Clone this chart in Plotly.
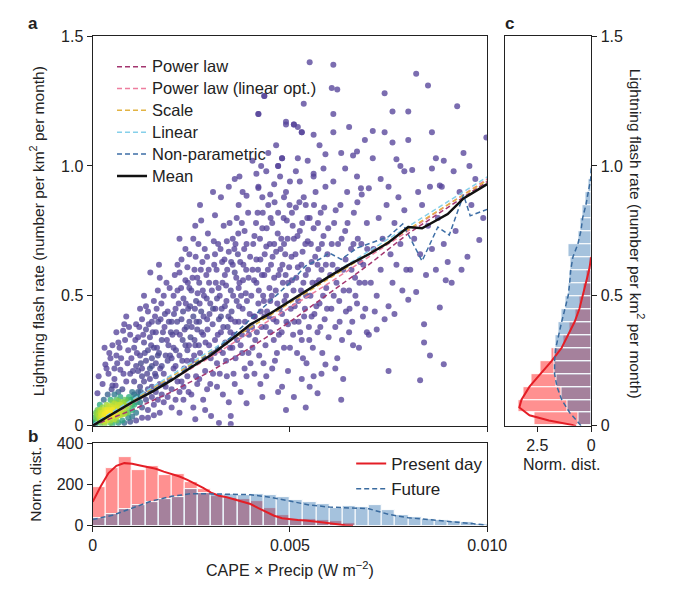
import numpy as np
import plotly.graph_objects as go

W, H = 674, 591

# ---------------- Panel a: scatter cloud (x in 1e-3 W m^-2, y flash rate) ----------------
core_pts = [
    (0.05,0.005),(0.1,0.01),(0.15,0.02),(0.2,0.01),(0.2,0.03),(0.25,0.02),(0.3,0.03),(0.3,0.015),
    (0.35,0.04),(0.35,0.02),(0.4,0.03),(0.4,0.05),(0.45,0.02),(0.45,0.04),(0.5,0.035),(0.5,0.06),
    (0.55,0.045),(0.55,0.025),(0.6,0.05),(0.6,0.07),(0.65,0.04),(0.65,0.06),(0.7,0.055),(0.7,0.08),
    (0.75,0.045),(0.75,0.07),(0.8,0.06),(0.8,0.09),(0.85,0.075),(0.85,0.05),(0.9,0.07),(0.9,0.1),
    (0.95,0.085),(1.0,0.06),(1.0,0.1),(0.1,0.03),(0.15,0.04),(0.25,0.05),(0.3,0.06),(0.4,0.075),
    (0.5,0.09),(0.6,0.1),(0.7,0.11),(0.2,0.06),(0.35,0.08),(0.45,0.1),(0.55,0.12),(0.65,0.13),
    (0.12,0.06),(0.05,0.03),(0.08,0.05),(0.18,0.08),(0.28,0.1),(0.38,0.12),(0.48,0.14),(0.58,0.155),
    (0.3,0.005),(0.45,0.01),(0.6,0.02),(0.75,0.02),(0.9,0.03),(1.0,0.035),(0.5,0.005),(0.65,0.01),
    (0.8,0.01),(0.95,0.015),
    (0.02,0.01),(0.07,0.015),(0.12,0.02),(0.17,0.03),(0.22,0.04),(0.27,0.035),(0.32,0.045),(0.37,0.05),
    (0.42,0.06),(0.47,0.055),(0.52,0.07),(0.57,0.065),(0.62,0.08),(0.67,0.075),(0.72,0.09),(0.77,0.085),
    (0.82,0.1),(0.87,0.09),(0.92,0.11),(0.97,0.1),(0.1,0.045),(0.2,0.05),(0.3,0.045),(0.4,0.04),
    (0.5,0.045),(0.6,0.035),(0.7,0.04),(0.8,0.045),(0.9,0.05),(1.0,0.08),(1.05,0.12),(1.12,0.09),
    (1.18,0.11),(1.22,0.13),(0.25,0.07),(0.15,0.055),(0.35,0.06),(0.45,0.075),(0.55,0.085),(0.65,0.095),
    (1.05,0.08),(1.1,0.11),(1.1,0.05),(1.15,0.13),(1.2,0.09),(1.2,0.15),(1.25,0.07),(1.3,0.12),
    (1.3,0.17),(1.35,0.1),(1.4,0.14),(1.4,0.06),(1.45,0.18),(1.5,0.11),(1.5,0.15),(1.55,0.08),
    (1.6,0.13),(1.6,0.19),(1.65,0.1),(1.7,0.16),(1.7,0.05),(1.75,0.12),(1.8,0.2),(1.8,0.09),
    (1.85,0.15),(1.9,0.11),(1.95,0.18),(2.0,0.07),(2.0,0.14),(2.05,0.22),(2.1,0.1),(2.15,0.17),
    (2.2,0.05),(2.2,0.13),(1.1,0.02),(1.25,0.03),(1.4,0.03),(1.55,0.04),(1.0,0.13),(1.05,0.17),
    (0.95,0.2),(1.15,0.21),(0.85,0.17),(0.75,0.14),(1.25,0.22),(1.35,0.25),(1.5,0.23),(1.65,0.27),
]

cloud_pts = [
    # x 0-1
    (0.12,0.125),(0.15,0.19),(0.32,0.235),(0.5,0.31),(0.5,0.155),(0.7,0.215),(0.77,0.365),(0.85,0.42),
    (0.8,0.39),(0.6,0.27),(0.4,0.2),(0.25,0.16),(0.65,0.32),(0.9,0.29),(0.95,0.35),(0.45,0.26),
    (0.3,0.3),(0.72,0.26),(0.55,0.22),(0.88,0.24),
    # x 1-2
    (1.1,0.39),(1.25,0.41),(1.4,0.44),(1.3,0.5),(1.46,0.59),(1.7,0.57),(1.05,0.3),(1.15,0.34),
    (1.2,0.27),(1.3,0.32),(1.35,0.37),(1.4,0.29),(1.45,0.34),(1.5,0.4),(1.55,0.3),(1.6,0.36),
    (1.62,0.45),(1.68,0.28),(1.72,0.41),(1.75,0.33),(1.8,0.5),(1.82,0.38),(1.85,0.27),(1.9,0.44),
    (1.92,0.31),(1.95,0.53),(1.98,0.36),(1.1,0.23),(1.25,0.19),(1.45,0.22),(1.6,0.24),(1.75,0.23),
    (1.9,0.25),(1.55,0.48),(1.35,0.46),(1.65,0.52),(2.0,0.4),(1.2,0.45),(1.5,0.26),
    # x 2-3
    (2.2,0.59),(2.4,0.61),(2.6,0.77),(2.05,0.3),(2.1,0.45),(2.12,0.36),(2.15,0.52),(2.2,0.27),
    (2.25,0.41),(2.28,0.33),(2.3,0.49),(2.32,0.22),(2.35,0.56),(2.38,0.38),(2.4,0.29),(2.42,0.45),
    (2.45,0.66),(2.48,0.34),(2.5,0.52),(2.52,0.25),(2.55,0.42),(2.58,0.6),(2.6,0.31),(2.62,0.48),
    (2.65,0.37),(2.68,0.7),(2.7,0.55),(2.72,0.28),(2.75,0.44),(2.78,0.63),(2.8,0.35),(2.82,0.5),
    (2.85,0.21),(2.88,0.58),(2.9,0.41),(2.92,0.74),(2.95,0.31),(2.98,0.47),(2.3,0.15),(2.5,0.12),
    (2.6,0.025),(2.7,0.18),(2.8,0.1),(2.9,0.14),(3.0,0.037),(2.4,0.19),(2.65,0.16),(2.55,0.07),
    (2.85,0.06),(2.1,0.23),(2.25,0.17),(2.2,0.72),(2.35,0.68),(2.55,0.72),(2.75,0.79),(2.15,0.62),
    (2.45,0.53),(2.65,0.57),(2.9,0.65),(2.05,0.5),(2.95,0.55),(2.7,0.4),(2.45,0.4),(2.35,0.31),
    (2.58,0.33),
    # x 3-4
    (3.1,0.81),(3.7,0.85),(3.9,0.885),(3.2,0.01),(3.5,0.037),(3.5,0.006),(3.9,0.086),(3.05,0.45),
    (3.08,0.62),(3.1,0.33),(3.12,0.55),(3.15,0.24),(3.18,0.7),(3.2,0.41),(3.22,0.5),(3.25,0.36),
    (3.28,0.63),(3.3,0.28),(3.32,0.77),(3.35,0.46),(3.38,0.54),(3.4,0.19),(3.42,0.38),(3.45,0.67),
    (3.48,0.3),(3.5,0.52),(3.52,0.44),(3.55,0.72),(3.58,0.35),(3.6,0.59),(3.62,0.26),(3.65,0.48),
    (3.68,0.66),(3.7,0.4),(3.72,0.55),(3.75,0.31),(3.78,0.78),(3.8,0.45),(3.82,0.62),(3.85,0.22),
    (3.88,0.51),(3.9,0.7),(3.92,0.37),(3.95,0.57),(3.98,0.43),(3.15,0.15),(3.3,0.12),(3.45,0.09),
    (3.6,0.16),(3.75,0.13),(3.9,0.19),(3.05,0.2),(3.25,0.88),(3.45,0.92),(3.6,0.95),(3.8,0.9),
    (3.35,0.58),(3.65,0.8),(3.55,0.62),(3.15,0.49),(3.4,0.71),(3.85,0.75),(3.7,0.53),(3.25,0.42),
    (3.5,0.41),(3.95,0.28),(3.1,0.66),(3.38,0.25),(3.62,0.7),(3.78,0.35),
    # x 4-5
    (4.2,0.915),(4.35,1.27),(4.2,1.2),(4.9,1.17),(4.8,1.03),(4.7,1.0),(4.5,0.89),(4.9,0.9),
    (5.0,0.94),(4.4,0.19),(4.3,0.11),(4.8,0.15),(4.9,0.06),(4.05,0.6),(4.08,0.42),(4.1,0.73),
    (4.12,0.33),(4.15,0.55),(4.18,0.82),(4.2,0.47),(4.22,0.27),(4.25,0.64),(4.28,0.38),(4.3,0.76),
    (4.32,0.5),(4.35,0.58),(4.38,0.31),(4.4,0.69),(4.42,0.44),(4.45,0.85),(4.48,0.53),(4.5,0.36),
    (4.52,0.62),(4.55,0.78),(4.58,0.41),(4.6,0.57),(4.62,0.25),(4.65,0.67),(4.68,0.47),(4.7,0.82),
    (4.72,0.35),(4.75,0.6),(4.78,0.72),(4.8,0.43),(4.82,0.55),(4.85,0.3),(4.88,0.66),(4.9,0.5),
    (4.92,0.79),(4.95,0.39),(4.98,0.61),(4.1,0.2),(4.25,0.16),(4.55,0.22),(4.7,0.13),(4.95,0.21),
    (4.15,0.97),(4.4,0.98),(4.6,0.93),(4.75,0.96),(4.3,0.88),(4.85,0.88),(4.65,1.08),(4.45,1.05),
    (4.05,1.02),(4.6,0.7),(4.35,0.42),(4.15,0.64),(4.5,0.48),(4.85,0.7),(4.05,0.3),(4.9,1.16),
    # x 5-6
    (5.5,1.4),(5.1,1.16),(5.3,1.13),(5.2,1.15),(5.2,1.03),(5.9,1.045),(5.6,0.97),(5.1,0.11),
    (5.4,0.07),(5.7,0.125),(5.6,0.19),(5.9,0.235),(5.05,0.56),(5.08,0.35),(5.1,0.72),(5.12,0.46),
    (5.15,0.84),(5.18,0.28),(5.2,0.61),(5.22,0.4),(5.25,0.75),(5.28,0.52),(5.3,0.33),(5.32,0.67),
    (5.35,0.88),(5.38,0.45),(5.4,0.58),(5.42,0.24),(5.45,0.71),(5.48,0.38),(5.5,0.8),(5.52,0.5),
    (5.55,0.63),(5.58,0.3),(5.6,0.76),(5.62,0.43),(5.65,0.9),(5.68,0.55),(5.7,0.36),(5.72,0.68),
    (5.75,0.47),(5.78,0.82),(5.8,0.6),(5.82,0.28),(5.85,0.73),(5.88,0.41),(5.9,0.92),(5.92,0.53),
    (5.95,0.66),(5.98,0.34),(5.3,0.18),(5.5,0.15),(5.8,0.2),(5.15,0.98),(5.45,1.02),(5.75,1.08),
    (5.25,0.94),(5.6,1.12),(5.35,1.24),(5.85,0.99),(5.05,0.82),(5.4,0.85),(5.7,0.62),(5.55,0.42),
    # x 6-7
    (6.1,1.39),(6.06,1.3),(6.1,1.2),(6.1,1.13),(6.2,1.295),(6.3,1.05),(6.7,1.056),(6.6,1.04),
    (6.1,0.94),(6.7,0.96),(6.3,0.10),(6.2,0.26),(6.5,0.36),(6.6,0.31),(6.05,0.45),(6.08,0.62),
    (6.12,0.78),(6.15,0.38),(6.18,0.55),(6.22,0.7),(6.25,0.48),(6.28,0.85),(6.32,0.33),(6.35,0.6),
    (6.4,0.75),(6.42,0.44),(6.45,0.9),(6.5,0.52),(6.55,0.68),(6.58,0.4),(6.62,0.82),(6.65,0.57),
    (6.7,0.47),(6.72,0.72),(6.78,0.63),(6.82,0.89),(6.85,0.42),(6.9,0.55),(6.95,0.78),(6.8,0.914),
    (6.4,0.99),(6.9,1.1),(6.5,1.15),(6.35,0.18),(6.15,0.22),(6.75,0.3),(6.95,0.36),
    # x 7-8
    (7.1,1.135),(7.4,1.28),(7.4,1.13),(7.6,1.21),(7.6,1.09),(7.1,1.03),(7.7,1.026),(7.8,1.0),
    (7.5,0.92),(7.0,0.914),(7.5,0.21),(7.5,0.46),(7.4,0.41),(7.2,0.37),(7.0,0.35),(7.05,0.55),
    (7.12,0.68),(7.2,0.5),(7.25,0.8),(7.3,0.6),(7.35,0.72),(7.45,0.85),(7.55,0.66),(7.6,0.55),
    (7.65,0.78),(7.7,0.62),(7.75,0.88),(7.8,0.7),(7.85,0.52),(7.9,0.83),(7.95,0.6),(7.15,0.44),
    (7.3,0.95),(7.9,0.98),(7.65,0.43),
    # x 8-9
    (8.2,1.355),(8.5,1.31),(8.0,1.21),(8.0,1.10),(8.6,1.13),(8.1,0.985),(8.6,0.99),(8.7,1.03),
    (8.9,1.02),(8.8,0.925),(8.85,0.92),(8.3,0.175),(8.55,0.27),(8.4,0.32),(8.8,0.455),(8.4,0.39),
    (8.2,0.515),(8.0,0.485),(8.05,0.6),(8.15,0.72),(8.3,0.66),(8.35,0.85),(8.45,0.58),(8.5,0.77),
    (8.6,0.68),(8.7,0.6),(8.75,0.8),(8.9,0.7),(8.95,0.56),(8.25,0.9),(8.55,0.92),(8.9,0.236),
    # x 9-10
    (9.24,1.23),(9.4,1.05),(9.98,1.11),(9.0,0.63),(9.5,0.65),(9.8,0.715),(9.2,0.75),(9.3,0.9),
    (9.6,0.85),(9.7,0.95),(9.1,0.55),(9.9,0.8),(9.35,0.6),(9.55,1.0),(9.15,0.98),
    # upper sparse x 4-6
    (4.35,1.27),(4.2,1.2),(5.3,1.13),(4.8,1.03),(4.7,1.0),(4.2,0.92),(5.6,0.96),(5.1,1.16),
]

cloud_pts_dense = [
    # x 0.5-1.5
    (0.55,0.18),(0.62,0.24),(0.68,0.3),(0.78,0.2),(0.82,0.33),(0.92,0.38),(0.98,0.26),(1.02,0.21),
    (1.08,0.33),(1.12,0.28),(1.18,0.38),(1.22,0.24),(1.28,0.35),(1.32,0.28),(1.38,0.2),(1.42,0.39),
    (1.48,0.31),(0.6,0.36),(0.42,0.28),(0.35,0.22),
    # x 1.5-2.5
    (1.52,0.36),(1.58,0.42),(1.63,0.3),(1.66,0.4),(1.71,0.22),(1.74,0.47),(1.78,0.36),(1.83,0.43),
    (1.87,0.55),(1.88,0.33),(1.93,0.4),(1.96,0.27),(2.02,0.35),(2.06,0.43),(2.08,0.58),(2.11,0.29),
    (2.14,0.4),(2.18,0.47),(2.21,0.35),(2.24,0.53),(2.27,0.25),(2.29,0.44),(2.33,0.37),(2.36,0.47),
    (2.39,0.25),(2.41,0.55),(2.44,0.31),(2.47,0.46),(1.58,0.2),(1.8,0.16),(2.0,0.26),(2.3,0.1),
    (2.43,0.13),(1.68,0.62),(2.25,0.64),
    # x 2.5-3.5
    (2.51,0.38),(2.53,0.57),(2.57,0.27),(2.59,0.45),(2.61,0.65),(2.63,0.4),(2.66,0.51),(2.69,0.31),
    (2.71,0.47),(2.74,0.6),(2.76,0.36),(2.79,0.52),(2.81,0.42),(2.84,0.68),(2.86,0.32),(2.89,0.49),
    (2.91,0.37),(2.94,0.6),(2.96,0.43),(2.99,0.26),(3.02,0.52),(3.04,0.39),(3.07,0.71),(3.09,0.28),
    (3.11,0.45),(3.14,0.6),(3.17,0.35),(3.19,0.53),(3.21,0.29),(3.24,0.68),(3.27,0.45),(3.29,0.55),
    (3.31,0.38),(3.34,0.64),(3.36,0.32),(3.39,0.48),(3.41,0.6),(3.44,0.42),(3.47,0.78),(3.49,0.36),
    (2.62,0.19),(2.98,0.16),(3.22,0.2),(2.72,0.85),(3.05,0.9),
    # x 3.5-4.5
    (3.51,0.63),(3.54,0.3),(3.56,0.5),(3.59,0.68),(3.61,0.4),(3.64,0.57),(3.66,0.33),(3.69,0.74),
    (3.71,0.46),(3.74,0.63),(3.76,0.5),(3.79,0.28),(3.81,0.56),(3.84,0.68),(3.86,0.4),(3.89,0.6),
    (3.91,0.48),(3.94,0.82),(3.96,0.35),(3.99,0.65),(4.02,0.5),(4.04,0.38),(4.07,0.7),(4.09,0.56),
    (4.11,0.42),(4.14,0.78),(4.16,0.36),(4.19,0.6),(4.21,0.52),(4.24,0.72),(4.26,0.44),(4.29,0.58),
    (4.31,0.82),(4.34,0.48),(4.36,0.66),(4.39,0.38),(4.41,0.76),(4.44,0.6),(4.46,0.42),(4.49,0.7),
    (3.57,0.2),(4.0,0.24),(4.33,0.24),(3.72,0.96),(4.27,1.0),
    # x 4.5-5.5
    (4.51,0.8),(4.54,0.5),(4.56,0.65),(4.59,0.33),(4.61,0.86),(4.64,0.52),(4.66,0.4),(4.69,0.74),
    (4.71,0.58),(4.74,0.45),(4.76,0.68),(4.79,0.36),(4.81,0.62),(4.84,0.8),(4.86,0.48),(4.89,0.58),
    (4.91,0.4),(4.94,0.72),(4.96,0.55),(4.99,0.85),(5.02,0.45),(5.04,0.65),(5.07,0.77),(5.09,0.52),
    (5.11,0.4),(5.14,0.66),(5.16,0.57),(5.19,0.73),(5.21,0.48),(5.24,0.86),(5.26,0.36),(5.29,0.62),
    (5.31,0.78),(5.34,0.55),(5.36,0.42),(5.39,0.7),(5.41,0.5),(5.44,0.8),(5.46,0.6),(5.49,0.33),
    (4.67,0.28),(5.0,0.3),(5.33,0.26),
    # x 5.5-7
    (5.53,0.7),(5.57,0.55),(5.61,0.85),(5.64,0.65),(5.67,0.46),(5.71,0.78),(5.74,0.56),(5.77,0.38),
    (5.81,0.7),(5.84,0.5),(5.87,0.84),(5.91,0.62),(5.94,0.45),(5.97,0.76),(6.02,0.58),(6.06,0.7),
    (6.11,0.5),(6.16,0.83),(6.21,0.6),(6.26,0.4),(6.31,0.72),(6.36,0.52),(6.41,0.64),(6.46,0.78),
    (6.51,0.45),(6.56,0.6),(6.61,0.7),(6.66,0.5),(6.71,0.86),(6.76,0.55),(6.81,0.7),(6.86,0.62),
    (6.91,0.45),(6.96,0.68),
]

# ---------------- Panel a: fitted curves ----------------
fit_x = [0, 1, 2, 3, 4, 5, 6, 7, 8, 9, 10]  # 1e-3 W m^-2
power_law_y = [0, 0.06, 0.13, 0.21, 0.30, 0.40, 0.51, 0.62, 0.74, 0.84, 0.94]
power_lin_y = [0, 0.085, 0.175, 0.265, 0.36, 0.455, 0.55, 0.65, 0.75, 0.85, 0.95]
scale_x = [0, 10]
scale_y = [0, 0.945]
linear_x = [0, 10]
linear_y = [0.005, 0.958]
nonpar_x = [0, 0.5, 1, 1.5, 2, 2.5, 3, 3.5, 4, 4.5, 5, 5.4, 5.8, 6.0, 6.3, 6.7, 7.0, 7.5,
            7.86, 8.35, 8.75, 9.04, 9.4, 9.57, 10]
nonpar_y = [0, 0.045, 0.09, 0.135, 0.18, 0.23, 0.28, 0.34, 0.41, 0.48, 0.55, 0.615, 0.645, 0.665,
            0.64, 0.684, 0.70, 0.728, 0.777, 0.634, 0.765, 0.734, 0.889, 0.808, 0.833]
mean_x = [0, 0.5, 1, 1.5, 2, 2.5, 3, 3.5, 4, 4.5, 5, 5.5, 6, 6.5, 7, 7.5, 8.0, 8.35, 8.7, 9.0,
          9.4, 10]
mean_y = [0, 0.045, 0.09, 0.13, 0.175, 0.225, 0.272, 0.33, 0.39, 0.432, 0.48, 0.525, 0.575, 0.62,
          0.66, 0.705, 0.765, 0.76, 0.79, 0.815, 0.875, 0.93]

# ---------------- Panel b: distributions of CAPE x Precip ----------------
b_present_bars = [187, 281, 331, 268, 289, 246, 249, 210, 179, 145, 135, 130, 120, 85, 50, 32,
                  30, 28, 20, 10, 0, 0, 0, 0, 0, 0, 0, 0, 0, 0]
b_future_bars = [38, 55, 80, 100, 115, 130, 140, 175, 160, 155, 152, 150, 152, 150, 140, 125,
                 115, 105, 85, 95, 90, 100, 75, 50, 40, 32, 28, 20, 15, 8]
b_present_kde_x = [0, 0.2, 0.4, 0.6, 0.8, 1.0, 1.2, 1.4, 1.6, 1.8, 2.0, 2.2, 2.4, 2.6, 2.8, 3.0,
                   3.2, 3.4, 3.6, 3.8, 4.0, 4.2, 4.4, 4.6, 4.8, 5.0, 5.2, 5.4, 5.6, 5.8, 6.0, 6.2,
                   6.4, 6.6]
b_present_kde_y = [116, 190, 255, 290, 303, 300, 292, 284, 276, 262, 250, 238, 222, 204, 183, 160,
                   145, 138, 128, 118, 105, 85, 65, 48, 36, 30, 27, 25, 22, 17, 12, 6, 2, 0]
b_future_kde_x = [0, 0.5, 1.0, 1.5, 2.0, 2.5, 3.0, 3.5, 4.0, 4.5, 5.0, 5.5, 6.0, 6.5, 7.0, 7.5,
                  8.0, 8.5, 9.0, 9.5, 10.0]
b_future_kde_y = [30, 50, 85, 120, 142, 155, 154, 151, 150, 138, 118, 100, 90, 85, 82, 55, 38,
                  30, 20, 12, 3]

# ---------------- Panel c: distributions of flash rate ----------------
c_present_bars = [2.63, 3.38, 3.16, 2.78, 2.34, 1.82, 1.3, 1.0, 0.75, 0.55, 0.35, 0.22, 0.08,
                  0, 0, 0, 0, 0, 0, 0, 0, 0, 0, 0, 0, 0, 0, 0, 0, 0]
c_future_bars = [0.6, 1.1, 1.4, 1.6, 1.7, 1.72, 1.65, 1.5, 1.38, 1.2, 1.05, 1.0, 0.95, 1.05,
                 0.6, 0.5, 0.4, 0.25, 0.12, 0.03, 0, 0, 0, 0, 0, 0, 0, 0, 0, 0]
c_present_kde_y = [0, 0.02, 0.04, 0.07, 0.1, 0.15, 0.2, 0.25, 0.3, 0.35, 0.4, 0.45, 0.5, 0.55,
                   0.6, 0.65]
c_present_kde_x = [0.7, 1.96, 2.86, 3.33, 3.23, 2.86, 2.34, 1.82, 1.37, 1.07, 0.77, 0.55, 0.40,
                   0.25, 0.1, 0.0]
c_future_kde_y = [0, 0.05, 0.1, 0.15, 0.2, 0.25, 0.3, 0.35, 0.4, 0.45, 0.5, 0.55, 0.6, 0.65,
                  0.7, 0.75, 0.8, 0.85, 0.9, 0.95, 1.0]
c_future_kde_x = [0.48, 1.0, 1.37, 1.59, 1.70, 1.70, 1.64, 1.52, 1.37, 1.22, 1.07, 1.0, 0.95,
                  0.85, 0.62, 0.48, 0.40, 0.25, 0.15, 0.03, 0.0]

# ---------------- build ----------------
E3 = 1e-3
FONT = "Liberation Sans, Arial, sans-serif"
DASH = "5px,3px"

all_pts = core_pts + cloud_pts + cloud_pts_dense
sx = np.array([p[0] for p in all_pts])
sy = np.array([p[1] for p in all_pts])
# point density (neighbours in screen-like units), used for colouring as in a density scatter
ppx, ppy = sx * 40.9, sy * 268
d2 = (ppx[:, None] - ppx[None, :]) ** 2 + (ppy[:, None] - ppy[None, :]) ** 2
dens = np.log((d2 < 13 ** 2).sum(1).astype(float))
order = np.argsort(dens)

fig = go.Figure()

fig.add_trace(go.Scatter(
    x=sx[order] * E3, y=sy[order], mode="markers", showlegend=False, hoverinfo="skip",
    marker=dict(size=6, color=dens[order], cmin=np.log(9.0), cmax=dens.max(), opacity=0.78,
                colorscale=[[0, "#56449a"], [0.25, "#46498e"], [0.45, "#2d7b8e"],
                            [0.62, "#2db37d"], [0.8, "#a3da37"], [1, "#fde725"]],
                line=dict(width=0)),
    xaxis="x", yaxis="y"))


def big(s):
    return '<span style="font-size:16.5px">' + s + '</span>'


line_specs = [
    ("Power law", [v * E3 for v in fit_x], power_law_y, "#a3356f", DASH, 1.5),
    ("Power law (linear opt.)", [v * E3 for v in fit_x], power_lin_y, "#ee7e9e", DASH, 1.5),
    ("Scale", [v * E3 for v in scale_x], scale_y, "#e2b343", DASH, 1.5),
    ("Linear", [v * E3 for v in linear_x], linear_y, "#86d0ea", DASH, 1.5),
    ("Non-parametric", [v * E3 for v in nonpar_x], nonpar_y, "#3d6ea6", DASH, 1.5),
    ("Mean", [v * E3 for v in mean_x], mean_y, "#111111", "solid", 2.5),
]
for name, xs, ys, col, dash, w in line_specs:
    fig.add_trace(go.Scatter(x=xs, y=ys, mode="lines", name=big(name), legend="legend",
                             line=dict(color=col, dash=dash, width=w), xaxis="x", yaxis="y"))

# panel b
b_edges = np.linspace(0, 0.01, len(b_present_bars) + 1)
b_centers = (b_edges[:-1] + b_edges[1:]) / 2
b_width = b_edges[1] - b_edges[0]
fig.add_trace(go.Bar(x=b_centers, y=b_present_bars, width=b_width, showlegend=False,
                     marker=dict(color="rgba(255,20,20,0.47)", line=dict(color="white", width=1)),
                     xaxis="x2", yaxis="y2"))
fig.add_trace(go.Bar(x=b_centers, y=b_future_bars, width=b_width, showlegend=False,
                     marker=dict(color="rgba(40,110,175,0.42)", line=dict(color="white", width=1)),
                     xaxis="x2", yaxis="y2"))
fig.add_trace(go.Scatter(x=[v * E3 for v in b_present_kde_x], y=b_present_kde_y, mode="lines",
                         name="Present day", legend="legend2",
                         line=dict(color="#e41e26", width=2), xaxis="x2", yaxis="y2"))
fig.add_trace(go.Scatter(x=[v * E3 for v in b_future_kde_x], y=b_future_kde_y, mode="lines",
                         name="Future", legend="legend2",
                         line=dict(color="#3a6b9f", width=1.5, dash=DASH), xaxis="x2", yaxis="y2"))

# panel c
c_edges = np.linspace(0, 1.5, len(c_present_bars) + 1)
c_centers = (c_edges[:-1] + c_edges[1:]) / 2
c_width = c_edges[1] - c_edges[0]
fig.add_trace(go.Bar(y=c_centers, x=c_present_bars, width=c_width, orientation="h", showlegend=False,
                     marker=dict(color="rgba(255,20,20,0.47)", line=dict(color="white", width=1)),
                     xaxis="x3", yaxis="y3"))
fig.add_trace(go.Bar(y=c_centers, x=c_future_bars, width=c_width, orientation="h", showlegend=False,
                     marker=dict(color="rgba(40,110,175,0.42)", line=dict(color="white", width=1)),
                     xaxis="x3", yaxis="y3"))
fig.add_trace(go.Scatter(x=c_present_kde_x, y=c_present_kde_y, mode="lines", showlegend=False,
                         line=dict(color="#e41e26", width=2), xaxis="x3", yaxis="y3"))
fig.add_trace(go.Scatter(x=c_future_kde_x, y=c_future_kde_y, mode="lines", showlegend=False,
                         line=dict(color="#3a6b9f", width=1.5, dash=DASH), xaxis="x3", yaxis="y3"))


def px(x):
    return x / W


def py(y):
    return 1 - y / H


axis_common = dict(showline=True, linecolor="#222", linewidth=1.3, mirror=True, ticks="outside",
                   ticklen=5, tickwidth=1.2, tickcolor="#222", showgrid=False, zeroline=False,
                   tickfont=dict(family=FONT, size=16, color="#222"))

fig.update_layout(
    width=W, height=H, margin=dict(l=0, r=0, t=0, b=0),
    paper_bgcolor="white", plot_bgcolor="white", barmode="overlay", bargap=0,
    font=dict(family=FONT, size=16, color="#222"),
    xaxis=dict(domain=[px(92), px(501)], range=[0, 0.01], anchor="y",
               tickvals=[0, 0.005, 0.01], showticklabels=False, **axis_common),
    yaxis=dict(domain=[py(430), py(29)], range=[0, 1.5], anchor="x",
               tickvals=[0, 0.5, 1.0, 1.5], ticktext=["0", "0.5", "1.0", "1.5"], **axis_common),
    xaxis2=dict(domain=[px(92), px(501)], range=[0, 0.01], anchor="y2",
                tickvals=[0, 0.005, 0.01], ticktext=["0", "0.005", "0.010"], **axis_common),
    yaxis2=dict(domain=[py(533), py(448)], range=[0, 400], anchor="x2",
                tickvals=[0, 200, 400], **axis_common),
    xaxis3=dict(domain=[px(520), px(609)], range=[3.97, 0], anchor="y3",
                tickvals=[2.5, 0], ticktext=["2.5", "0"], **axis_common),
    yaxis3=dict(domain=[py(430), py(29)], range=[0, 1.5], anchor="x3", side="right",
                tickvals=[0, 0.5, 1.0, 1.5], ticktext=["0", "0.5", "1.0", "1.5"], **axis_common),
    legend=dict(x=px(112), y=py(44), xanchor="left", yanchor="top", bgcolor="rgba(0,0,0,0)",
                font=dict(family=FONT, size=14.5, color="#222"), tracegroupgap=0),
    legend2=dict(x=px(360), y=py(451), xanchor="left", yanchor="top", bgcolor="rgba(0,0,0,0)",
                 font=dict(family=FONT, size=17, color="#222")),
)

ann = [
    dict(text="<b>a</b>", x=px(30), y=py(16), size=17),
    dict(text="<b>b</b>", x=px(30), y=py(441), size=17),
    dict(text="<b>c</b>", x=px(524), y=py(16), size=17),
    dict(text="Lightning flash rate (number per km<sup>2</sup> per month)", x=px(35), y=py(230),
         size=15.5, angle=-90),
    dict(text="Lightning flash rate (number per km<sup>2</sup> per month)", x=px(656), y=py(232),
         size=15.5, angle=90),
    dict(text="Norm. dist.", x=px(33), y=py(490), size=15.5, angle=-90),
    dict(text="CAPE × Precip (W m<sup>−2</sup>)", x=px(297), y=py(578), size=16),
    dict(text="Norm. dist.", x=px(578), y=py(470), size=16),
]
for a in ann:
    fig.add_annotation(text=a["text"], x=a["x"], y=a["y"], xref="paper", yref="paper",
                       showarrow=False, xanchor="center", yanchor="middle",
                       textangle=a.get("angle", 0),
                       font=dict(family=FONT, size=a["size"], color="#222"))

fig.write_html("out.html")
